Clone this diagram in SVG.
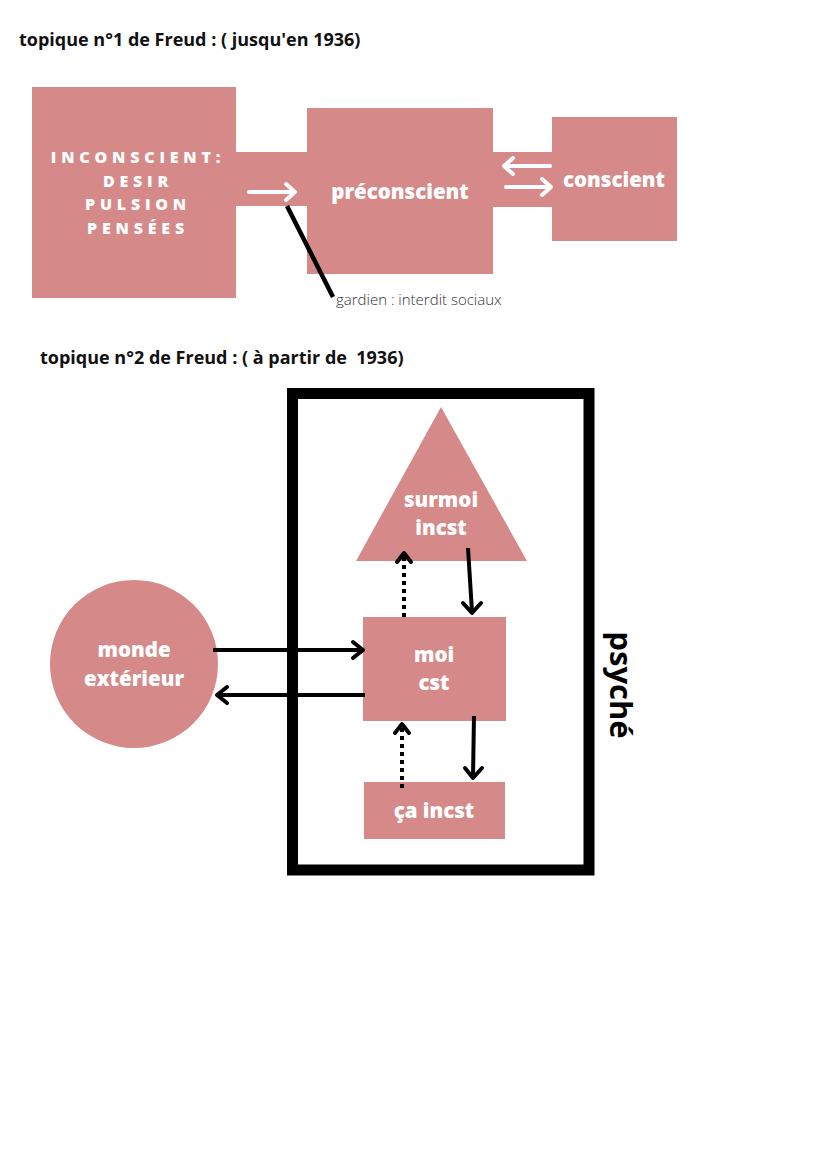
<svg xmlns="http://www.w3.org/2000/svg" width="828" height="1171" viewBox="0 0 828 1171">
<defs>
<style>
.pink{fill:#d58a89}
.title{font-family:"Open Sans","Liberation Sans",sans-serif;font-weight:700;font-size:18px;fill:#111;white-space:pre}
.lbl{font-family:"Open Sans","Liberation Sans",sans-serif;font-weight:800;font-size:20.5px;fill:#fff;text-anchor:middle}
.caps{font-family:"Open Sans","Liberation Sans",sans-serif;font-weight:800;font-size:16px;fill:#fff;text-anchor:middle;letter-spacing:4.8px}
.note{font-family:"Open Sans","Liberation Sans",sans-serif;font-weight:300;font-size:15px;fill:#333}
.wline{stroke:#fff;stroke-width:4;fill:none;stroke-linecap:round}
.bline{stroke:#000;stroke-width:4;fill:none;stroke-linecap:butt}
.dots{stroke:#000;stroke-width:4;fill:none;stroke-dasharray:4 4}
.whead{stroke:#fff;stroke-width:4;fill:none;stroke-linecap:round;stroke-linejoin:round}
.bhead{stroke:#000;stroke-width:4;fill:none;stroke-linecap:round;stroke-linejoin:round}
</style>
</defs>
<rect width="828" height="1171" fill="#fff"/>
<text class="title" x="19" y="46">topique n°1 de Freud : ( jusqu'en 1936)</text>
<g id="bands">
<rect class="pink" x="234" y="152" width="76" height="54"/>
<rect class="pink" x="491" y="152" width="64" height="55"/>
</g>
<g id="inconscient">
<rect class="pink" x="32" y="87" width="204" height="211"/>
<text class="caps" x="138" y="163">INCONSCIENT:</text>
<text class="caps" x="138" y="187">DESIR</text>
<text class="caps" x="138" y="210">PULSION</text>
<text class="caps" x="138" y="234">PENSÉES</text>
</g>
<g id="preconscient">
<rect class="pink" x="307" y="108" width="186" height="166"/>
<text class="lbl" x="400" y="199">préconscient</text>
</g>
<g id="conscient">
<rect class="pink" x="552" y="117" width="125" height="124"/>
<text class="lbl" x="614" y="187">conscient</text>
</g>
<g id="connectors-top">
<line class="wline" x1="249" y1="192" x2="294" y2="192"/>
<path class="whead" d="M286,184 L295,192 L286,200"/>
<line class="wline" x1="550" y1="166" x2="506" y2="166"/>
<path class="whead" d="M513,158 L504,166 L513,174"/>
<line class="wline" x1="506" y1="187" x2="549" y2="187"/>
<path class="whead" d="M542,179 L551,187 L542,195"/>
<line x1="287" y1="206" x2="333" y2="297" stroke="#000" stroke-width="4.5"/>
</g>
<text class="note" x="336" y="305">gardien : interdit sociaux</text>
<text class="title" x="40" y="364">topique n°2 de Freud : ( à partir de  1936)</text>
<g id="psyche">
<rect x="292.5" y="393.5" width="296.5" height="476.5" fill="none" stroke="#000" stroke-width="11"/>
<text transform="translate(610,685) rotate(90)" x="0" y="0" text-anchor="middle" font-family="Open Sans, Liberation Sans, sans-serif" font-weight="700" font-size="31" fill="#000">psyché</text>
</g>
<g id="surmoi">
<polygon class="pink" points="441,407 527,561 356,561"/>
<text class="lbl" x="441" y="507">surmoi</text>
<text class="lbl" x="441" y="535">incst</text>
</g>
<g id="moi">
<rect class="pink" x="363" y="617" width="143" height="104"/>
<text class="lbl" x="434" y="662">moi</text>
<text class="lbl" x="434" y="690">cst</text>
</g>
<g id="ca">
<rect class="pink" x="364" y="782" width="141" height="57"/>
<text class="lbl" x="434" y="818">ça incst</text>
</g>
<g id="monde">
<circle class="pink" cx="134" cy="664" r="84"/>
<text class="lbl" x="134" y="657">monde</text>
<text class="lbl" x="134" y="686">extérieur</text>
</g>
<g id="connectors">
<line class="dots" x1="404" y1="617" x2="404" y2="556"/>
<path class="bhead" d="M397,562 L404,553 L411,562"/>
<line class="bline" x1="468" y1="548" x2="472" y2="612"/>
<path class="bhead" d="M463,603 L472,613 L481,603"/>
<line class="dots" x1="402" y1="788" x2="402" y2="728"/>
<path class="bhead" d="M395,733 L402,724 L409,733"/>
<line class="bline" x1="474" y1="716" x2="473" y2="777"/>
<path class="bhead" d="M465,768 L473,778 L482,768"/>
<line class="bline" x1="213" y1="650" x2="362" y2="650"/>
<path class="bhead" d="M353,642 L363,650 L353,658"/>
<line class="bline" x1="365" y1="695" x2="218" y2="695"/>
<path class="bhead" d="M227,687 L217,695 L227,703"/>
</g>
</svg>
